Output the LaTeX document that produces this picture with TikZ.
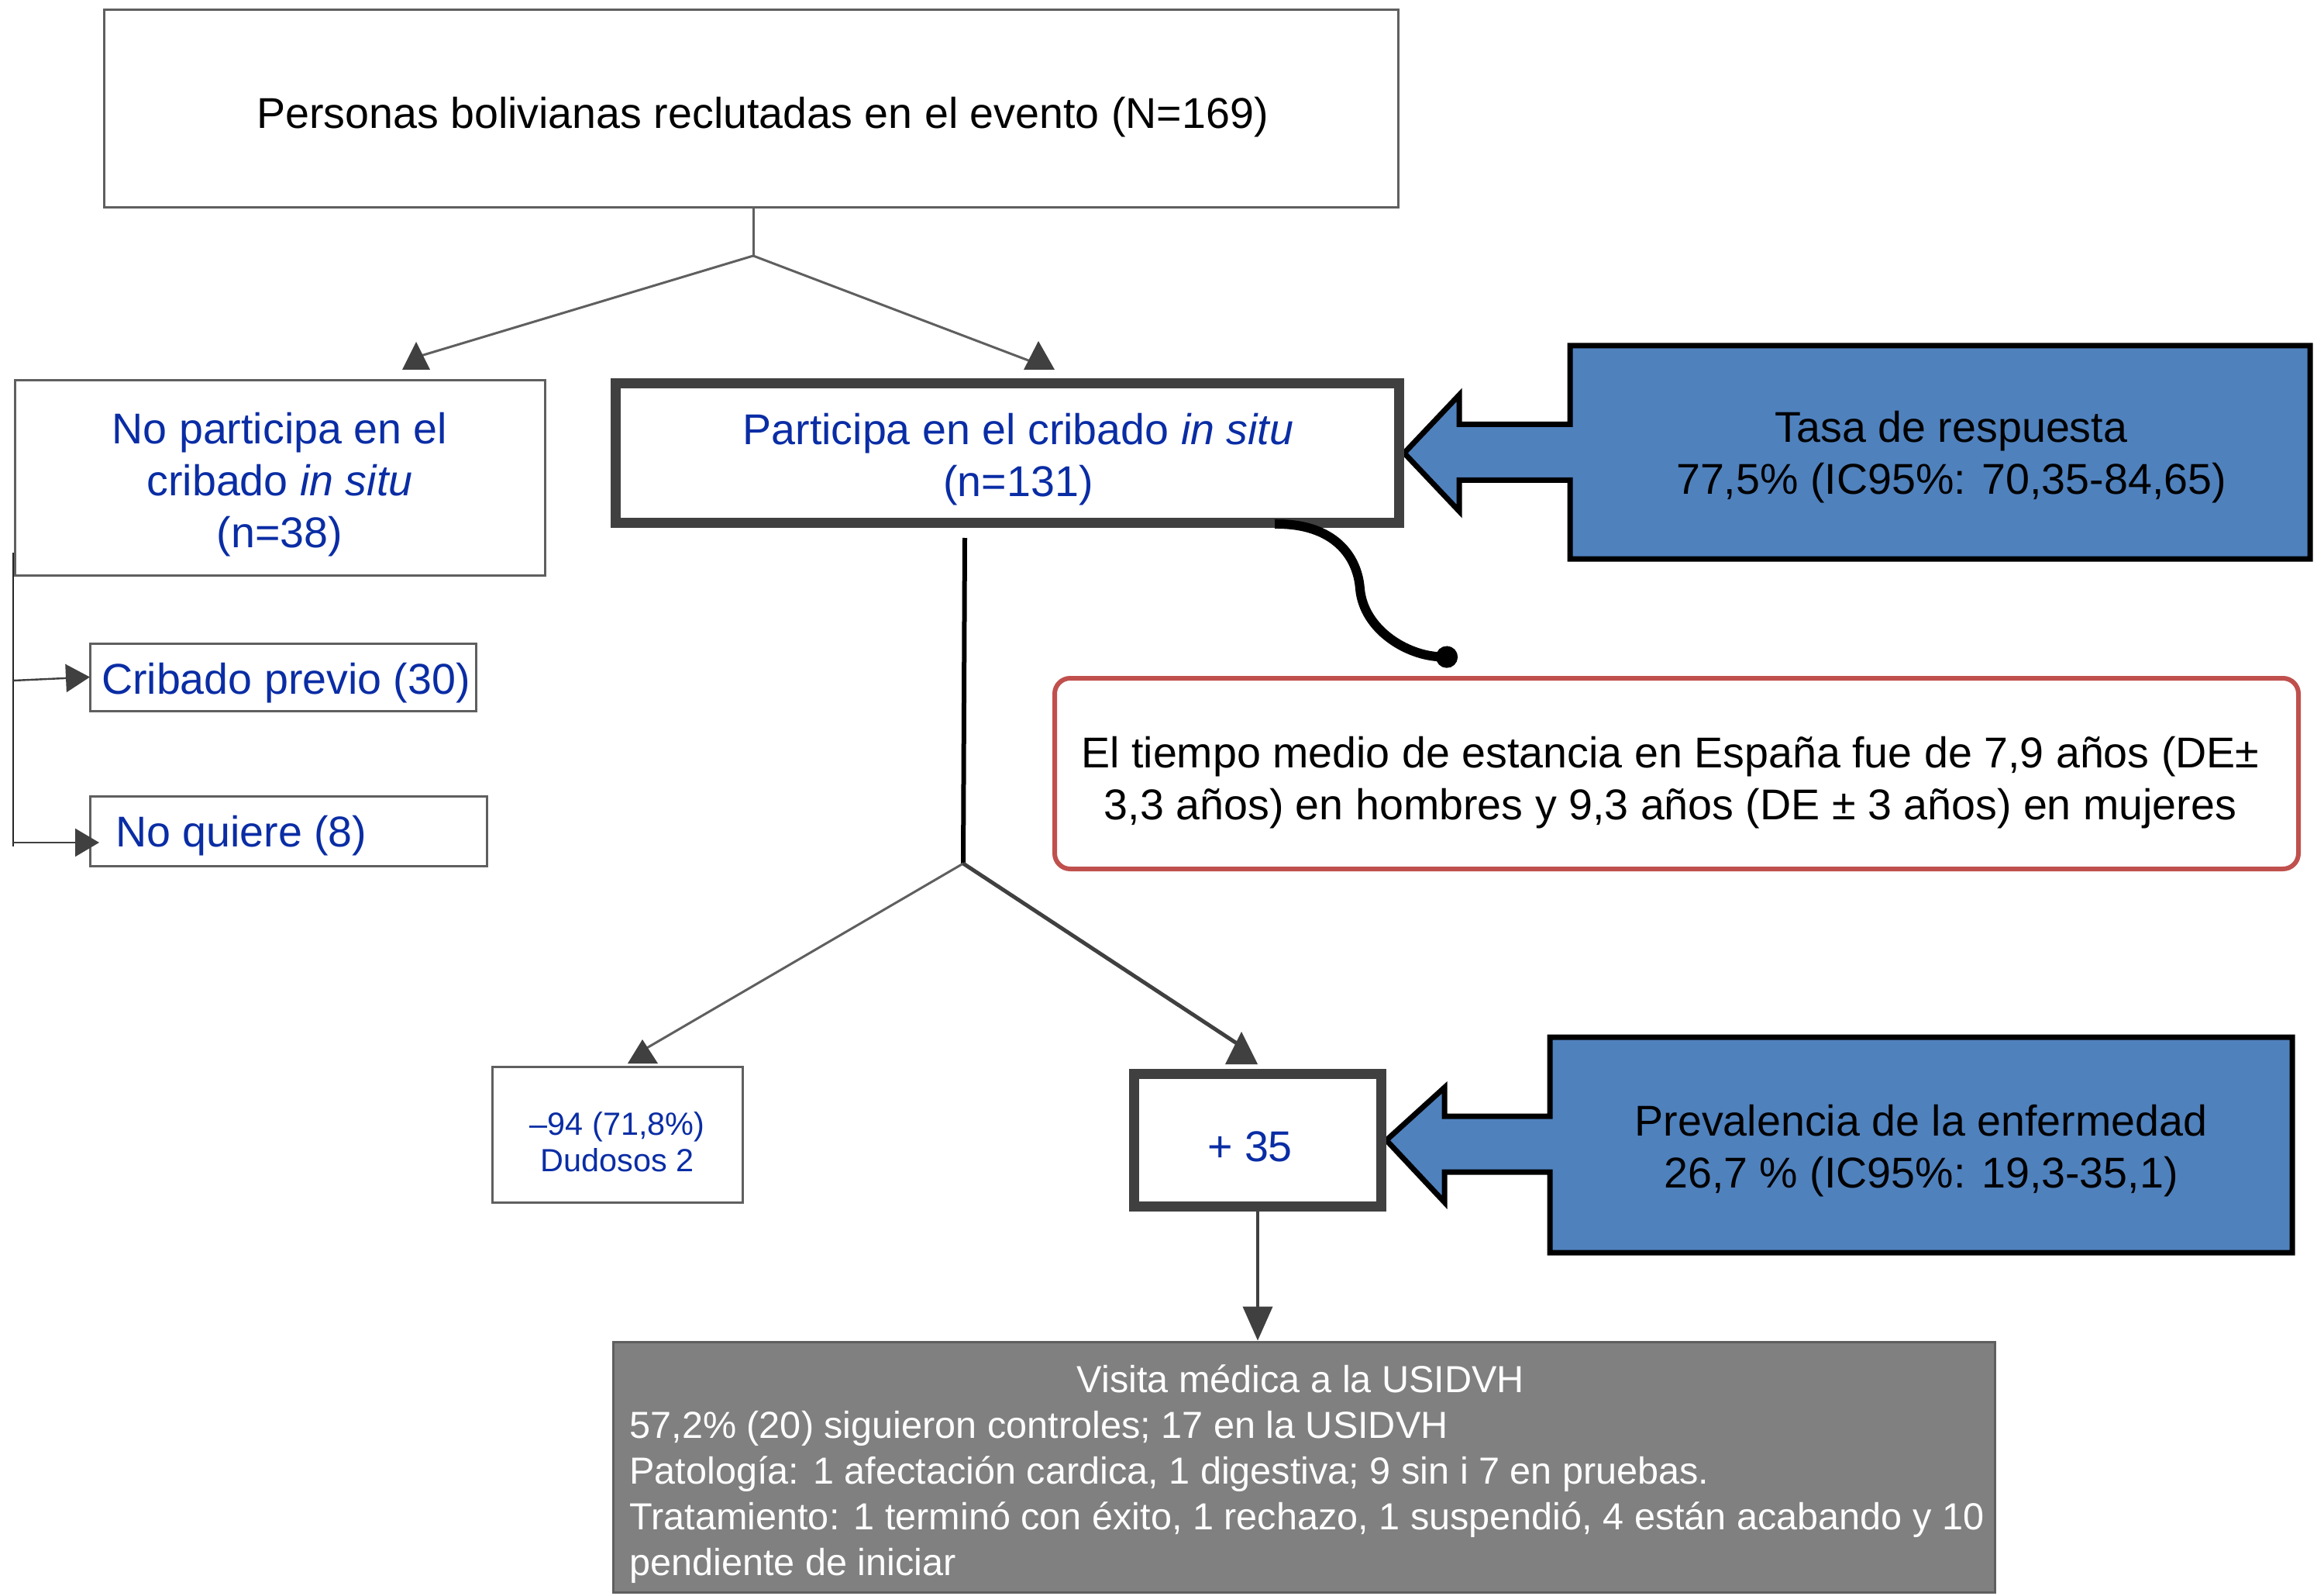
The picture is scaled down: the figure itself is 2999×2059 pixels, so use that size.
\documentclass[tikz,border=0pt]{standalone}
\usepackage{fontspec}
\setmainfont{Liberation Sans}
\usetikzlibrary{arrows.meta,calc,backgrounds}
\definecolor{txtblue}{RGB}{10,45,165}
\definecolor{fillblue}{RGB}{79,129,189}
\definecolor{redline}{RGB}{192,80,77}
\definecolor{darkline}{RGB}{64,64,64}
\definecolor{thinline}{RGB}{95,95,95}
\definecolor{boxgray}{RGB}{128,128,128}
\begin{document}
\begin{tikzpicture}[x=0.5pt,y=-0.5pt,
  mainfont/.style={font=\fontsize{27.8pt}{33.5pt}\selectfont},
  thinbox/.style={draw=thinline, line width=1.5pt, fill=white, inner sep=0pt, outer sep=0pt},
  thickbox/.style={draw=darkline, line width=6.5pt, fill=white, inner sep=0pt},
  calloutbox/.style={inner sep=0pt, outer sep=0pt},
  txt/.style={mainfont, align=center, inner sep=0pt},
  bluetxt/.style={txt, text=txtblue},
  calloutshape/.style={fill=fillblue, draw=black, line width=3.5pt, line join=miter},
  thinconn/.style={draw=thinline, line width=1.5pt},
  sidetip/.style={-{Triangle[length=15.5pt,width=18pt]}, draw=darkline, fill=darkline, line width=1.2pt},
  downtip/.style={-{Triangle[length=22pt,width=19pt]}, draw=darkline, line width=2pt},
  uptri/.style={fill=darkline},
]
\useasboundingbox (0,0) rectangle (2999,2059);

% boxes
\node[thinbox, minimum width=835pt, minimum height=127.5pt] (top) at (969,140.5) {};
\node[thinbox, minimum width=342pt, minimum height=125.5pt] (nopart) at (361,616.5) {};
\node[thickbox, minimum width=505.5pt, minimum height=90pt] (part) at (1300,584.5) {};
\node[calloutbox, minimum width=477.5pt, minimum height=137.5pt] (rate) at (2503.5,583.5) {};
\node[thinbox, draw=redline, line width=3pt, rounded corners=10pt, minimum width=802.5pt, minimum height=123pt] (stay) at (2163.5,998) {};
\node[thinbox, minimum width=249pt, minimum height=43.5pt] (crib) at (365,873.5) {};
\node[thinbox, minimum width=256pt, minimum height=45pt] (nq) at (372,1072) {};
\node[thinbox, minimum width=161.5pt, minimum height=87.5pt] (m94) at (796.5,1463.5) {};
\node[thickbox, minimum width=159.5pt, minimum height=85.5pt] (plus) at (1623,1471) {};
\node[calloutbox, minimum width=479pt, minimum height=139pt] (prev) at (2479,1477) {};
\node[draw=thinline, line width=1.5pt, fill=boxgray, inner sep=0pt,
      minimum width=891.5pt, minimum height=161.5pt] (visit) at (1682.5,1892.5) {};

% texts
\node[txt] (top-t) at ($(top.center)+(15,11)$)
  {Personas bolivianas reclutadas en el evento (N=169)};
\node[bluetxt] (nopart-t) at ($(nopart.center)+(0,9)$)
  {No participa en el\\cribado \textit{in situ}\\(n=38)};
\node[bluetxt] (part-t) at ($(part.center)+(14,8)$)
  {Participa en el cribado \textit{in situ}\\(n=131)};
\node[txt] (rate-t) at ($(rate.center)+(14.5,6)$)
  {Tasa de respuesta\\77,5\% (IC95\%: 70,35-84,65)};
\node[txt] (stay-t) at ($(stay.center)+(-8,11.5)$)
  {El tiempo medio de estancia en España fue de 7,9 años (DE±\\3,3 años) en hombres y 9,3 años (DE ± 3 años) en mujeres};
\node[bluetxt] (crib-t) at ($(crib.center)+(4,8)$) {Cribado previo (30)};
\node[bluetxt] (nq-t) at ($(nq.center)+(0,6)$) {\makebox[223pt][l]{No quiere (8)}};
\node[bluetxt, font=\fontsize{20.7pt}{23.5pt}\selectfont] (m94-t) at ($(m94.center)+(0,10)$)
  {–94 (71,8\%)\\Dudosos 2};
\node[bluetxt] (plus-t) at ($(plus.center)+(-10,8)$) {+ 35};
\node[txt] (prev-t) at ($(prev.center)+(0,8)$)
  {Prevalencia de la enfermedad\\26,7 \% (IC95\%: 19,3-35,1)};
\node[inner sep=0pt, text=white, font=\fontsize{24.3pt}{29.5pt}\selectfont] (visit-t) at ($(visit.center)+(4,10.5)$)
  {\begin{tabular}{@{}l@{}}
   \multicolumn{1}{@{}c@{}}{Visita médica a la USIDVH\hspace*{8pt}}\\
   57,2\% (20) siguieron controles; 17 en la USIDVH\\
   Patología: 1 afectación cardica, 1 digestiva; 9 sin i 7 en pruebas.\\
   Tratamiento: 1 terminó con éxito, 1 rechazo, 1 suspendió, 4 están acabando y 10\\
   pendiente de iniciar
   \end{tabular}};

% callout shapes (behind)
\begin{scope}[on background layer]
\fill[white] (0,0) rectangle (2999,2059);
\filldraw[calloutshape]
  (rate.north west) -- (rate.north east) -- (rate.south east) -- (rate.south west)
  -- ($(rate.west)+(0,36)$) -- ($(rate.west)+(-143,36)$) -- ($(rate.west)+(-143,76)$)
  -- (part.east)
  -- ($(rate.west)+(-143,-74)$) -- ($(rate.west)+(-143,-36)$) -- ($(rate.west)+(0,-36)$) -- cycle;
\filldraw[calloutshape]
  (prev.north west) -- (prev.north east) -- (prev.south east) -- (prev.south west)
  -- ($(prev.west)+(0,35)$) -- ($(prev.west)+(-136,35)$) -- ($(prev.west)+(-136,74)$)
  -- (plus.east)
  -- ($(prev.west)+(-136,-74)$) -- ($(prev.west)+(-136,-37)$) -- ($(prev.west)+(0,-37)$) -- cycle;
\end{scope}

% top branch
\coordinate (j1) at (972,330);
\draw[thinconn] ($(top.south)+(3,0)$) -- (j1);
\draw[thinconn] (j1) -- ($(nopart.north)+(182,-32)$);
\draw[thinconn] (j1) -- ($(part.north)+(35,-20)$);
\fill[uptri] (537,441) -- (555,477) -- (519,477) -- cycle;
\fill[uptri] (1340,440) -- (1361,477) -- (1321,477) -- cycle;

% left bracket
\coordinate (brtop) at ($(nopart.south west)+(-2,-29)$);
\coordinate (brbot) at (17,1092);
\draw[draw=black!85, line width=1.3pt] (brtop) -- (brbot);
\draw[sidetip] ($(brtop)+(0,165)$) -- (crib.west);
\draw[sidetip] ($(brtop)+(0,374)$) -- ($(nq.west)+(12,15)$);

% lower branch
\coordinate (j2) at (1243,1114);
\draw[black, line width=3pt] ($(part.south)+(-55,13)$) -- (j2);
\draw[thinconn] (j2) -- ($(m94.north)+(33,-21)$);
\draw[darkline, line width=2.5pt] (j2) -- ($(plus.north)+(-21,-29)$);
\fill[uptri] (829,1341) -- (849,1372) -- (810,1372) -- cycle;
\fill[uptri] (1602,1331) -- (1623,1373) -- (1581,1373) -- cycle;

% curved connector to the stay note
\coordinate (dotB) at (1881,848);
\draw[black, line width=6pt, -{Circle[length=14pt,width=14pt]}]
  ($(part.south)+(345,-5)$) .. controls (1722,675) and (1752,718) .. (1755,760)
  .. controls (1760,812) and (1815,846) .. (dotB);

% down arrow to visit box
\draw[downtip] (plus.south) -- (plus.south |- visit.north);
\end{tikzpicture}
\end{document}
